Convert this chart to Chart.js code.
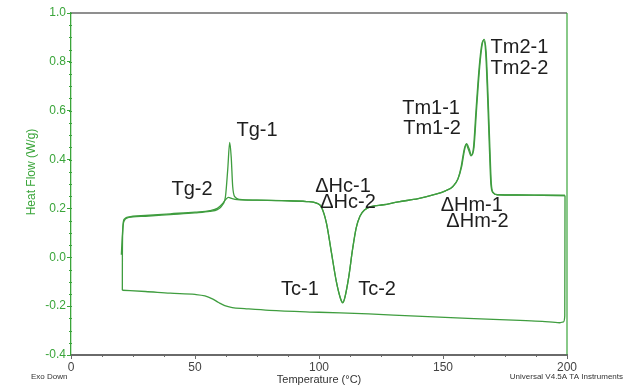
<!DOCTYPE html>
<html>
<head>
<meta charset="utf-8">
<script src="https://cdn.jsdelivr.net/npm/chart.js@4"></script>
<style>
  html, body { margin: 0; padding: 0; background: #fff; }
  #dsc { display: block; }
</style>
</head>
<body>
<canvas id="dsc" width="632" height="388"></canvas>
<script>
// 1st heating (with the relaxation peak at Tg)
const heat1T = [20.3, 20.6, 21.0, 21.6, 22.5, 25, 30, 40, 50, 56, 59, 61, 62.3, 63.2, 64.0, 64.6, 65.2, 66, 68, 75, 85, 95, 99, 101, 103, 105, 107, 108.7, 109.5, 110.3, 112, 113.5, 115, 116.5, 118.5, 121, 126, 132, 140, 146, 151, 154, 156, 157.5, 158.7, 159.5, 160.5, 161.5, 162.5, 163.5, 164.8, 165.8, 166.6, 167.4, 168.2, 168.9, 169.5, 170.3, 172, 180, 190, 199.2];
const heat1HF = [0.01, 0.07, 0.13, 0.152, 0.16, 0.165, 0.168, 0.175, 0.182, 0.188, 0.195, 0.213, 0.25, 0.36, 0.47, 0.41, 0.29, 0.248, 0.237, 0.234, 0.232, 0.228, 0.222, 0.205, 0.14, 0.02, -0.1, -0.17, -0.187, -0.17, -0.08, 0.03, 0.12, 0.168, 0.195, 0.207, 0.215, 0.227, 0.24, 0.255, 0.272, 0.29, 0.32, 0.37, 0.44, 0.465, 0.445, 0.418, 0.45, 0.6, 0.78, 0.87, 0.892, 0.84, 0.65, 0.45, 0.3, 0.265, 0.256, 0.255, 0.254, 0.253];

// cooling from 200 back to 20
const coolT = [199.2, 199.1, 198.6, 197, 190, 181, 160, 137, 120, 100, 80, 70, 65, 62, 59.5, 57, 54, 50, 40, 30, 20.7];
const coolHF = [0.253, -0.24, -0.264, -0.268, -0.262, -0.258, -0.25, -0.24, -0.232, -0.225, -0.217, -0.21, -0.206, -0.198, -0.185, -0.17, -0.158, -0.152, -0.147, -0.14, -0.135];

// 2nd heating
const heat2T = [20.7, 20.72, 20.85, 21.1, 21.6, 22.5, 25, 30, 40, 50, 56, 59, 61, 62.5, 63.5, 65, 67, 75, 85, 95, 99, 101, 103, 105, 107, 108.7, 109.6, 110.4, 112, 113.5, 115, 116.5, 118.5, 121, 126, 132, 140, 146, 151, 154, 156, 157.3, 158.5, 159.3, 160.3, 161.3, 162.3, 163.3, 164.6, 165.6, 166.4, 167.2, 168.0, 168.7, 169.3, 170.1, 172, 180, 190, 199.2];
const heat2HF = [-0.135, 0.0, 0.1, 0.145, 0.157, 0.163, 0.168, 0.171, 0.178, 0.185, 0.191, 0.2, 0.218, 0.238, 0.245, 0.24, 0.236, 0.234, 0.232, 0.228, 0.222, 0.205, 0.14, 0.02, -0.1, -0.17, -0.185, -0.165, -0.08, 0.03, 0.12, 0.168, 0.195, 0.207, 0.215, 0.227, 0.24, 0.255, 0.272, 0.29, 0.32, 0.37, 0.44, 0.462, 0.44, 0.415, 0.45, 0.6, 0.78, 0.87, 0.888, 0.84, 0.65, 0.45, 0.3, 0.265, 0.256, 0.255, 0.254, 0.253];

const xTicks = [0, 50, 100, 150, 200];
const yTicks = [-0.4, -0.2, 0.0, 0.2, 0.4, 0.6, 0.8, 1.0];

// peak / transition labels, placed in data coordinates
const notes = [
  { text: 'Tg-1', x: 75.0, y: 0.52 },
  { text: 'Tg-2', x: 48.8, y: 0.276 },
  { text: '\u0394Hc-1', x: 109.7, y: 0.288 },
  { text: '\u0394Hc-2', x: 111.7, y: 0.226 },
  { text: 'Tc-1', x: 92.3, y: -0.13 },
  { text: 'Tc-2', x: 123.4, y: -0.13 },
  { text: 'Tm1-1', x: 145.2, y: 0.611 },
  { text: 'Tm1-2', x: 145.6, y: 0.529 },
  { text: 'Tm2-1', x: 169.2, y: 0.857, align: 'left' },
  { text: 'Tm2-2', x: 169.2, y: 0.771, align: 'left' },
  { text: '\u0394Hm-1', x: 161.6, y: 0.214 },
  { text: '\u0394Hm-2', x: 163.9, y: 0.146 }
];

const GREEN = '#3f9d3f';
const AXIS_GREEN = '#3aa53a';
const GRAY = '#6a6a6a';
const FONT = "'Liberation Sans', Arial, sans-serif";

function toPoints(xs, ys) {
  return xs.map((x, i) => ({ x, y: ys[i] }));
}

function curve(label, xs, ys) {
  return {
    label,
    data: toPoints(xs, ys),
    borderColor: GREEN,
    borderWidth: 1.3,
    pointRadius: 0,
    fill: false,
    cubicInterpolationMode: 'monotone'
  };
}

const decorPlugin = {
  id: 'decor',
  afterDraw(chart) {
    const { ctx, chartArea: a, scales: { x, y } } = chart;
    ctx.save();

    // top border (gray) and right border (green)
    ctx.lineWidth = 1.5;
    ctx.strokeStyle = GRAY;
    ctx.beginPath();
    ctx.moveTo(a.left, a.top);
    ctx.lineTo(a.right, a.top);
    ctx.stroke();
    ctx.strokeStyle = AXIS_GREEN;
    ctx.lineWidth = 1.2;
    ctx.beginPath();
    ctx.moveTo(a.right, a.top);
    ctx.lineTo(a.right, a.bottom);
    ctx.stroke();

    // minor ticks
    ctx.lineWidth = 1;
    ctx.strokeStyle = AXIS_GREEN;
    for (let v = -0.4; v <= 1.0001; v += 0.05) {
      const py = Math.round(y.getPixelForValue(v)) + 0.5;
      ctx.beginPath();
      ctx.moveTo(a.left - 2, py);
      ctx.lineTo(a.left + 1, py);
      ctx.stroke();
    }
    ctx.strokeStyle = GRAY;
    for (let v = 0; v <= 200; v += 12.5) {
      const px = Math.round(x.getPixelForValue(v)) + 0.5;
      ctx.beginPath();
      ctx.moveTo(px, a.bottom - 1);
      ctx.lineTo(px, a.bottom + 2);
      ctx.stroke();
    }

    // annotations
    ctx.fillStyle = '#1e1e1e';
    ctx.font = '20px ' + FONT;
    ctx.textBaseline = 'middle';
    notes.forEach(n => {
      ctx.textAlign = n.align || 'center';
      ctx.fillText(n.text, x.getPixelForValue(n.x), y.getPixelForValue(n.y));
    });

    // axis titles and footer texts
    ctx.fillStyle = AXIS_GREEN;
    ctx.font = '12px ' + FONT;
    ctx.textAlign = 'center';
    ctx.save();
    ctx.translate(32, 172);
    ctx.rotate(-Math.PI / 2);
    ctx.fillText('Heat Flow (W/g)', 0, 0);
    ctx.restore();

    ctx.fillStyle = '#333';
    ctx.font = '11px ' + FONT;
    ctx.fillText('Temperature (\u00B0C)', (a.left + a.right) / 2, 380);

    ctx.font = '8px ' + FONT;
    ctx.textAlign = 'left';
    ctx.fillText('Exo Down', 31, 377);
    ctx.textAlign = 'right';
    ctx.fillText('Universal V4.5A TA Instruments', 623, 377);

    ctx.restore();
  }
};

new Chart(document.getElementById('dsc').getContext('2d'), {
  type: 'line',
  data: {
    datasets: [
      curve('1st heating', heat1T, heat1HF),
      curve('cooling', coolT, coolHF),
      curve('2nd heating', heat2T, heat2HF)
    ]
  },
  options: {
    responsive: false,
    animation: false,
    layout: { padding: { left: 0, right: 65, top: 13, bottom: 0 } },
    plugins: {
      legend: { display: false },
      tooltip: { enabled: false }
    },
    scales: {
      x: {
        type: 'linear',
        min: 0,
        max: 200,
        afterBuildTicks: s => { s.ticks = xTicks.map(v => ({ value: v })); },
        afterFit: s => { s.height = 33; },
        ticks: {
          color: '#444',
          font: { family: FONT, size: 12 },
          padding: 1,
          maxRotation: 0,
          callback: v => String(v)
        },
        grid: { drawOnChartArea: false, tickLength: 4, tickColor: GRAY, tickWidth: 1 },
        border: { color: GRAY, width: 2 }
      },
      y: {
        type: 'linear',
        min: -0.4,
        max: 1.0,
        afterBuildTicks: s => { s.ticks = yTicks.map(v => ({ value: v })); },
        afterFit: s => { s.width = 71; },
        ticks: {
          color: AXIS_GREEN,
          font: { family: FONT, size: 12 },
          padding: 1,
          callback: v => v.toFixed(1)
        },
        grid: { drawOnChartArea: false, tickLength: 4, tickColor: AXIS_GREEN, tickWidth: 1 },
        border: { color: AXIS_GREEN, width: 1.3 }
      }
    }
  },
  plugins: [decorPlugin]
});
</script>
</body>
</html>
